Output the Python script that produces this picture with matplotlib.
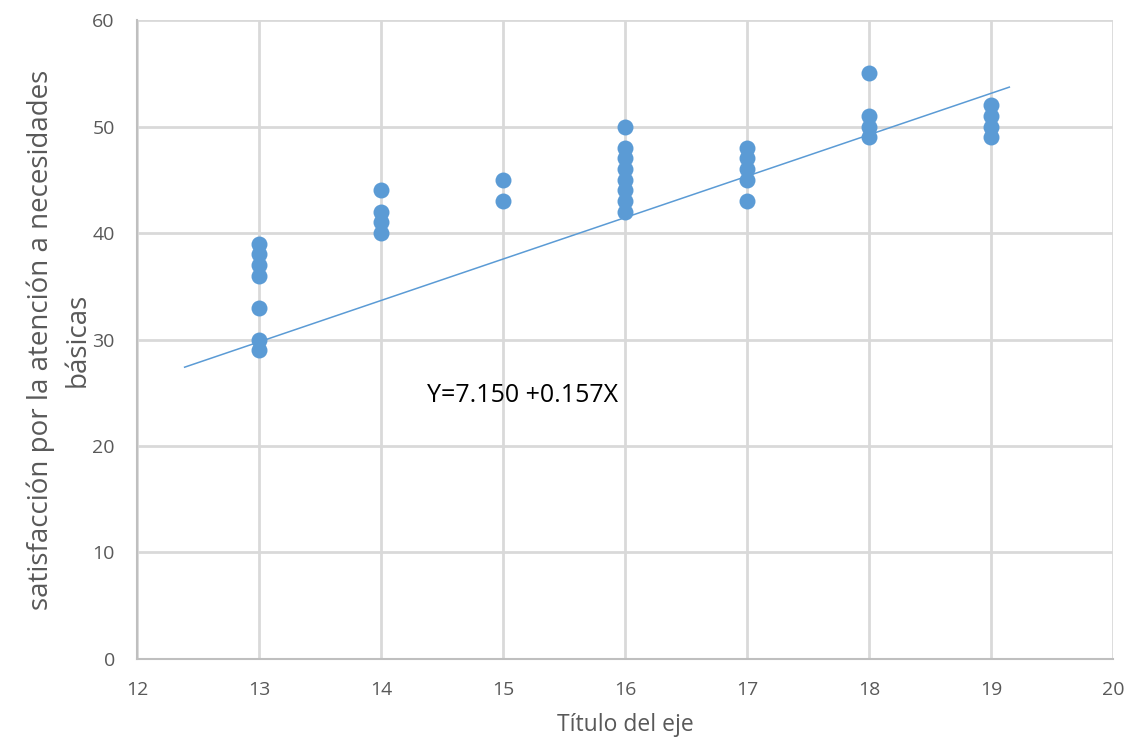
import numpy as np
import matplotlib
matplotlib.use("Agg")
from matplotlib import pyplot as plt

plt.rcParams['font.family'] = ['Open Sans', 'DejaVu Sans']

# points, grouped by x value
x13 = [13]*7; y13 = [39, 38, 37, 36, 33, 30, 29]
x14 = [14]*4; y14 = [44, 42, 41, 40]
x15 = [15]*2; y15 = [45, 43]
x16 = [16]*8; y16 = [50, 48, 47, 46, 45, 44, 43, 42]
x17 = [17]*5; y17 = [48, 47, 46, 45, 43]
x18 = [18]*4; y18 = [55, 51, 50, 49]
x19 = [19]*4; y19 = [52, 51, 50, 49]

xs = np.array(x13 + x14 + x15 + x16 + x17 + x18 + x19)
ys = np.array(y13 + y14 + y15 + y16 + y17 + y18 + y19)

# trend line ends
trend_x = [12.39, 19.15]
trend_y = [27.4, 53.7]

eq_label = "Y=7.150 +0.157X"
xlabel = "Título del eje"
ylabel = "satisfacción por la atención a necesidades\nbásicas"

blue = '#5B9BD5'
grid = '#D9D9D9'
tick_col = '#595959'

fig = plt.figure(figsize=(11.27, 7.42), dpi=100)
ax = fig.add_axes([0.1216, 0.1119, 0.866, 0.8611])

ax.plot(trend_x, trend_y, color=blue, lw=1.1, zorder=2)
ax.plot(xs, ys, 'o', color=blue, markersize=11.5, markeredgewidth=0, zorder=3)

ax.set_xlim(12, 20)
ax.set_ylim(0, 60)
ax.set_xticks(range(12, 21))
ax.set_yticks(range(0, 61, 10))
ax.grid(True, color=grid, lw=2)
ax.set_axisbelow(True)
for s in ['top', 'right']:
    ax.spines[s].set_visible(False)
for s in ['left', 'bottom']:
    ax.spines[s].set_color('#BFBFBF')
    ax.spines[s].set_linewidth(1.5)
ax.tick_params(length=0, labelsize=14, colors=tick_col, pad=16)

ax.text(15.16, 24.7, eq_label, fontsize=18, color='black', ha='center', va='center')

ax.set_xlabel(xlabel, fontsize=16.5, color=tick_col)
ax.xaxis.set_label_coords(0.5, -0.085)
ax.set_ylabel(ylabel, fontsize=20, color=tick_col, linespacing=1.4)
ax.yaxis.set_label_coords(-0.047, 0.5)

fig.savefig('out.png', dpi=100)
